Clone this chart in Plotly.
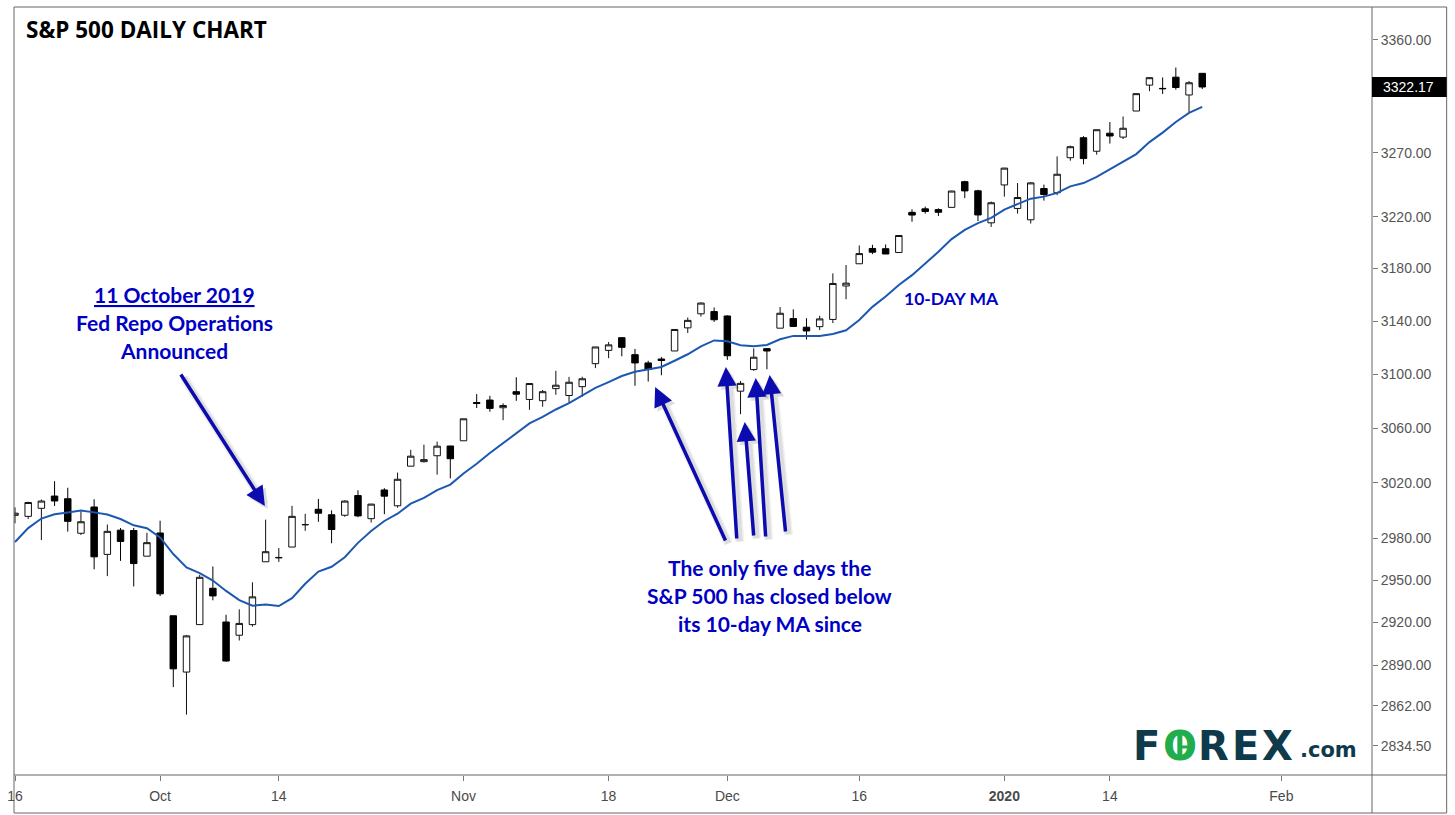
import numpy as np
import pandas as pd
import plotly.graph_objects as go

# ---------------- data ----------------
dates = [
    "2019-09-16","2019-09-17","2019-09-18","2019-09-19","2019-09-20","2019-09-23","2019-09-24","2019-09-25",
    "2019-09-26","2019-09-27","2019-09-30",
    "2019-10-01","2019-10-02","2019-10-03","2019-10-04","2019-10-07","2019-10-08","2019-10-09","2019-10-10",
    "2019-10-11","2019-10-14","2019-10-15","2019-10-16","2019-10-17","2019-10-18","2019-10-21","2019-10-22",
    "2019-10-23","2019-10-24","2019-10-25","2019-10-28","2019-10-29","2019-10-30","2019-10-31",
    "2019-11-01","2019-11-04","2019-11-05","2019-11-06","2019-11-07","2019-11-08","2019-11-11","2019-11-12",
    "2019-11-13","2019-11-14","2019-11-15","2019-11-18","2019-11-19","2019-11-20","2019-11-21","2019-11-22",
    "2019-11-25","2019-11-26","2019-11-27","2019-11-29",
    "2019-12-02","2019-12-03","2019-12-04","2019-12-05","2019-12-06","2019-12-09","2019-12-10","2019-12-11",
    "2019-12-12","2019-12-13","2019-12-16","2019-12-17","2019-12-18","2019-12-19","2019-12-20","2019-12-23",
    "2019-12-24","2019-12-26","2019-12-27","2019-12-30","2019-12-31",
    "2020-01-02","2020-01-03","2020-01-06","2020-01-07","2020-01-08","2020-01-09","2020-01-10","2020-01-13",
    "2020-01-14","2020-01-15","2020-01-16","2020-01-17","2020-01-21","2020-01-22","2020-01-23","2020-01-24",
]
opens = [
    2996.41,2995.67,3001.50,3010.36,3008.42,2983.50,3002.43,2968.35,2985.73,2985.47,2967.07,
    2983.69,2924.78,2885.38,2918.56,2944.23,2920.40,2911.10,2918.55,2963.07,2965.81,2973.61,2989.68,
    3000.77,2996.84,2996.48,3010.73,2994.01,3014.78,3003.32,3032.12,3035.39,3039.74,3046.90,
    3050.72,3078.96,3080.80,3075.10,3087.02,3081.25,3080.33,3089.28,3084.18,3090.75,3107.92,3117.91,
    3127.45,3114.66,3108.49,3111.41,3117.44,3134.85,3145.49,3147.18,
    3143.85,3087.41,3103.50,3119.21,3134.62,3141.86,3135.36,3135.75,3141.23,3166.65,3183.63,3195.40,
    3195.21,3192.32,3223.33,3226.05,3225.45,3227.20,3247.23,3240.09,3215.18,
    3244.67,3226.36,3217.55,3241.86,3238.59,3266.03,3281.81,3271.13,3285.35,3282.27,3302.97,3323.66,
    3321.03,3330.02,3315.77,3333.10,
]
highs = [
    3002.19,3006.21,3007.83,3021.19,3016.37,2999.15,3007.98,2989.82,2987.28,2987.31,2983.85,
    2992.53,2924.78,2911.13,2953.74,2959.75,2925.47,2929.32,2948.46,2993.28,2972.84,3003.28,2997.54,
    3008.29,3000.00,3007.33,3014.57,3004.78,3016.07,3027.39,3044.08,3047.87,3050.10,3046.90,
    3066.95,3085.20,3083.95,3078.34,3097.77,3093.09,3088.33,3102.61,3098.06,3098.20,3120.46,3124.17,
    3127.64,3118.97,3110.11,3112.87,3133.83,3142.69,3154.26,3150.30,
    3144.31,3094.97,3119.38,3119.45,3150.60,3148.87,3142.12,3143.98,3176.28,3182.68,3197.71,3198.22,
    3198.48,3205.48,3225.65,3227.78,3226.43,3240.08,3247.93,3240.92,3231.72,
    3258.14,3246.15,3246.84,3244.91,3267.07,3275.58,3282.99,3288.13,3294.25,3298.66,3317.11,3329.88,
    3329.79,3337.77,3326.88,3333.18,
]
lows = [
    2990.67,2993.73,2978.57,3003.16,2984.68,2982.23,2957.73,2952.86,2963.71,2945.53,2967.07,
    2938.70,2874.93,2855.94,2918.56,2935.68,2892.66,2907.41,2917.12,2963.07,2962.94,2973.61,2985.20,
    2991.79,2976.31,2995.35,2995.04,2991.21,2997.24,3001.94,3032.12,3034.81,3025.96,3023.19,
    3050.72,3074.87,3072.15,3065.89,3080.23,3073.58,3075.82,3084.73,3078.80,3083.26,3104.60,3112.06,
    3113.47,3091.41,3094.55,3099.26,3117.44,3131.00,3143.41,3139.34,
    3110.78,3070.33,3102.53,3103.76,3134.62,3135.46,3126.09,3133.21,3138.47,3156.51,3183.63,3191.03,
    3191.14,3192.32,3216.03,3222.30,3220.51,3227.20,3234.37,3216.57,3212.03,
    3235.53,3222.34,3214.64,3232.43,3236.67,3263.67,3260.86,3268.43,3277.19,3280.69,3302.97,3318.86,
    3316.61,3320.04,3301.87,3320.50,
]
closes = [
    2997.96,3005.70,3006.73,3006.79,2992.07,2991.78,2966.60,2984.87,2977.62,2961.79,2976.74,
    2940.25,2887.61,2910.63,2952.01,2938.79,2893.06,2919.40,2938.13,2970.27,2966.15,2995.68,2989.69,
    2997.95,2986.20,3006.72,2995.99,3004.52,3010.29,3022.55,3039.42,3036.89,3046.77,3037.56,
    3066.91,3078.27,3074.62,3076.78,3085.18,3093.08,3087.01,3091.84,3094.04,3096.63,3120.46,3122.03,
    3120.18,3108.46,3103.54,3110.29,3133.64,3140.52,3153.63,3140.98,
    3113.87,3093.20,3112.76,3117.43,3145.91,3135.96,3132.52,3141.63,3168.57,3168.80,3191.45,3192.52,
    3191.14,3205.37,3221.22,3224.01,3223.38,3239.91,3240.02,3221.29,3230.78,
    3257.85,3234.85,3246.28,3237.18,3253.05,3274.70,3265.35,3288.13,3283.15,3289.29,3316.81,3329.62,
    3320.79,3321.75,3325.54,3322.17,
]
# closes of the 9 sessions before the first visible candle (needed to seed the 10-day MA)
ma_seed_closes = [2906.27, 2937.78, 2976.00, 2978.71, 2978.43, 2979.39, 3000.93, 3009.57, 3007.39]
ma_period = 10

# upcoming sessions (empty space on the right of the chart)
future_dates = ["2020-01-27","2020-01-28","2020-01-29","2020-01-30","2020-01-31","2020-02-03"]

y_tick_values = [2834.50, 2862.00, 2890.00, 2920.00, 2950.00, 2980.00, 3020.00, 3060.00,
                 3100.00, 3140.00, 3180.00, 3220.00, 3270.00, 3360.00]
x_tick_dates = ["2019-09-16","2019-10-01","2019-10-14","2019-11-01","2019-11-18",
                "2019-12-02","2019-12-16","2020-01-02","2020-01-14","2020-02-03"]
x_tick_labels = ["16","Oct","14","Nov","18","Dec","16","<b>2020</b>","14","Feb"]
last_price = closes[-1]

# ---------------- derived ----------------
all_dates = dates + future_dates
x_idx = np.arange(len(dates))
ma = pd.Series(ma_seed_closes + closes).rolling(ma_period).mean().iloc[len(ma_seed_closes):].to_numpy()
x_tick_vals = [all_dates.index(d) for d in x_tick_dates]

# ---------------- layout geometry (pixels) ----------------
W, H = 1455, 815
PL, PR, PT, PB = 8, 1372, 7, 775          # plot area
FR, FB = 1447, 813                          # outer frame right / bottom

def pxx(x):
    return (x - PL) / (PR - PL)

def pxy(y):
    return (PB - y) / (PB - PT)

BLUE_TXT = "#0000c4"
BLUE_ARR = "#0b0bb0"

fig = go.Figure()

fig.add_trace(go.Candlestick(
    x=x_idx, open=opens, high=highs, low=lows, close=closes,
    increasing=dict(fillcolor="#ffffff", line=dict(color="#111111", width=1)),
    decreasing=dict(fillcolor="#000000", line=dict(color="#000000", width=1)),
    whiskerwidth=0, showlegend=False, hoverinfo="skip",
))
fig.add_trace(go.Scatter(
    x=x_idx, y=ma, mode="lines", line=dict(color="#1d58b0", width=2),
    showlegend=False, hoverinfo="skip",
))

annotations = []
# title
annotations.append(dict(text="<b>S&P 500 DAILY CHART</b>", x=pxx(18), y=pxy(29), xref="paper", yref="paper",
                        xanchor="left", yanchor="middle", showarrow=False,
                        font=dict(family="Open Sans", size=22.5, color="#000000")))
# left text block
for txt, yy in [("<b><u>11 October 2019</u></b>", 294), ("<b>Fed Repo Operations</b>", 322), ("<b>Announced</b>", 350)]:
    annotations.append(dict(text=txt, x=pxx(169), y=pxy(yy), xref="paper", yref="paper",
                            xanchor="center", yanchor="middle", showarrow=False,
                            font=dict(family="Lato", size=21, color=BLUE_TXT)))
# bottom text block
for txt, yy in [("<b>The only five days the</b>", 567), ("<b>S&P 500 has closed below</b>", 595),
                ("<b>its 10-day MA since</b>", 623)]:
    annotations.append(dict(text=txt, x=pxx(767), y=pxy(yy), xref="paper", yref="paper",
                            xanchor="center", yanchor="middle", showarrow=False,
                            font=dict(family="Lato", size=21, color=BLUE_TXT)))
annotations.append(dict(text="<b>10-DAY MA</b>", x=pxx(950), y=pxy(298), xref="paper", yref="paper",
                        xanchor="center", yanchor="middle", showarrow=False,
                        font=dict(family="Lato", size=17.5, color=BLUE_TXT)))

# arrows (tip, tail) in pixels
arrows = [((260, 506), (175, 373)), ((652, 387), (723, 542)), ((723, 367), (734, 540)),
          ((742, 422), (751, 537)), ((753, 378), (763, 538)), ((767, 375), (783, 533))]
for w, a in [(9, 0.05), (6, 0.08)]:
    for (tx, ty), (sx, sy) in arrows:
        annotations.append(dict(text="", x=pxx(tx + 3), y=pxy(ty + 3), xref="paper", yref="paper",
                                ax=(sx - tx), ay=(sy - ty), showarrow=True, arrowhead=2,
                                arrowsize=1.1 * 3.5 / w, arrowwidth=w,
                                arrowcolor=f"rgba(0,0,0,{a})", standoff=0))
for (tx, ty), (sx, sy) in arrows:
    annotations.append(dict(text="", x=pxx(tx), y=pxy(ty), xref="paper", yref="paper",
                            ax=(sx - tx), ay=(sy - ty), showarrow=True, arrowhead=2, arrowsize=1.1,
                            arrowwidth=3.5, arrowcolor=BLUE_ARR, standoff=0))

# last price label
annotations.append(dict(text=f"{last_price:.2f}", x=pxx(1381), y=pxy(87), xref="paper", yref="paper",
                        xanchor="left", yanchor="middle", showarrow=False,
                        font=dict(family="Liberation Sans", size=14, color="#ffffff")))

# FOREX.com logo
LOGO_DARK = "#0e3a4b"
LOGO_GREEN = "#1fae4b"
for ch, cx, col in [("F", 1146, LOGO_DARK), ("O", 1179, LOGO_GREEN), ("R", 1213, LOGO_DARK),
                    ("E", 1245, LOGO_DARK), ("X", 1277, LOGO_DARK)]:
    annotations.append(dict(text=f"<b>{ch}</b>", x=pxx(cx), y=pxy(746), xref="paper", yref="paper",
                            xanchor="center", yanchor="middle", showarrow=False,
                            font=dict(family="DejaVu Sans", size=40, color=col)))
annotations.append(dict(text="<b>.com</b>", x=pxx(1328), y=pxy(750), xref="paper", yref="paper",
                        xanchor="center", yanchor="middle", showarrow=False,
                        font=dict(family="DejaVu Sans", size=21, color=LOGO_DARK)))

frame = dict(color="#666666", width=1)
shapes = [
    dict(type="rect", xref="paper", yref="paper", x0=0, x1=pxx(FR), y0=pxy(FB), y1=1, line=frame),
    dict(type="line", xref="paper", yref="paper", x0=1, x1=1, y0=pxy(FB), y1=1, line=frame),
    dict(type="line", xref="paper", yref="paper", x0=0, x1=pxx(FR), y0=0, y1=0, line=frame),
    dict(type="rect", xref="paper", yref="paper", x0=1, x1=pxx(FR), y0=pxy(97), y1=pxy(77),
         fillcolor="#000000", line=dict(width=0)),
    # bar inside the green O of the logo
    dict(type="line", xref="paper", yref="paper", x0=pxx(1179), x1=pxx(1179), y0=pxy(759), y1=pxy(735),
         line=dict(color=LOGO_GREEN, width=5)),
    dict(type="line", xref="paper", yref="paper", x0=pxx(1179), x1=pxx(1190), y0=pxy(747), y1=pxy(747),
         line=dict(color=LOGO_GREEN, width=3)),
]

fig.update_layout(
    width=W, height=H,
    margin=dict(l=PL, r=W - PR, t=PT, b=H - PB),
    paper_bgcolor="#ffffff", plot_bgcolor="#ffffff",
    annotations=annotations, shapes=shapes,
    xaxis=dict(range=[-0.0755, 102.87], rangeslider=dict(visible=False), showgrid=False, zeroline=False,
               showline=False, tickmode="array", tickvals=x_tick_vals, ticktext=x_tick_labels,
               ticks="outside", ticklen=5, tickcolor="#777777", ticklabelstandoff=3,
               tickfont=dict(family="Liberation Sans", size=14, color="#4a4a4a")),
    yaxis=dict(type="log", side="right", range=[np.log10(2814.7), np.log10(3386.8)],
               showgrid=False, zeroline=False, showline=False,
               tickmode="array", tickvals=y_tick_values, ticktext=[f"{v:.2f}" for v in y_tick_values],
               ticks="outside", ticklen=5, tickcolor="#777777",
               tickfont=dict(family="Liberation Sans", size=14, color="#555555")),
)

fig.write_html("out.html", config={"displayModeBar": False},
               post_script="document.body.style.margin='0';document.body.style.padding='0';")
